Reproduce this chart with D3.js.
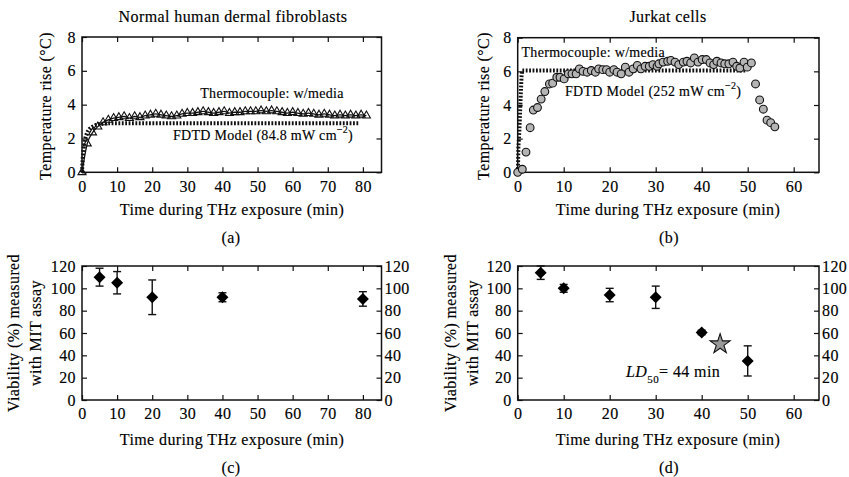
<!DOCTYPE html>
<html>
<head>
<meta charset="utf-8">
<script src="https://cdn.jsdelivr.net/npm/d3@7"></script>
<style>
  body { margin: 0; background: #fff; }
  svg text { font-family: "Liberation Serif", "Times New Roman", serif; fill: #000; font-size: 16px; letter-spacing: 0.4px; stroke: #000; stroke-width: 0.15px; }
  svg text.note { font-size: 14px; letter-spacing: 0.3px; }
</style>
</head>
<body>
<svg id="fig" width="849" height="477"></svg>
<script>
// ---- Temperature rise, normal human dermal fibroblasts ----
const fibroTime = [0, 1.5, 3, 4.5, 6, 7.5, 9, 10.5, 12, 13.5, 15, 16.5, 18, 19.5, 21, 22.5, 24, 25.5, 27, 28.5,
  30, 31.5, 33, 34.5, 36, 37.5, 39, 40.5, 42, 43.5, 45, 46.5, 48, 49.5, 51, 52.5, 54, 55.5, 57, 58.5,
  60, 61.5, 63, 64.5, 66, 67.5, 69, 70.5, 72, 73.5, 75, 76.5, 78, 79.5, 81];
const fibroTemp = [0, 1.7, 2.35, 2.7, 2.95, 3.1, 3.2, 3.25, 3.3, 3.2, 3.3, 3.25, 3.35, 3.4, 3.45, 3.4, 3.35, 3.3, 3.35, 3.45,
  3.5, 3.5, 3.55, 3.6, 3.55, 3.5, 3.55, 3.6, 3.5, 3.55, 3.55, 3.6, 3.6, 3.6, 3.65, 3.6, 3.65, 3.6, 3.55, 3.5,
  3.55, 3.5, 3.45, 3.5, 3.45, 3.4, 3.45, 3.4, 3.35, 3.4, 3.35, 3.4, 3.35, 3.4, 3.35];
const fibroModelTime = [0, 0.2, 0.45, 0.75, 1.1, 1.6, 2.2, 3, 4, 5, 6.5, 8, 79];
const fibroModelTemp = [0, 0.8, 1.4, 1.85, 2.15, 2.4, 2.58, 2.7, 2.8, 2.85, 2.88, 2.9, 2.9];

// ---- Temperature rise, Jurkat cells ----
const jurkatTime = [0, 1.0, 1.8, 2.7, 3.4, 4.3, 5.1, 5.9, 6.9, 7.6, 8.5, 9.2, 10.1, 11.0, 11.8, 12.7, 13.4, 14.2, 15.1, 16.0,
  16.9, 17.6, 18.5, 19.3, 20.0, 20.9, 21.6, 22.5, 23.4, 24.2, 25.1, 26.0, 26.8, 27.7, 28.6, 29.4, 30.3, 30.7, 31.6, 32.6,
  33.3, 34.2, 35.0, 36.0, 36.8, 37.6, 38.4, 39.2, 40.1, 41.0, 41.8, 42.6, 43.3, 44.2, 45.0, 45.9, 46.8, 47.6, 48.3, 49.2,
  49.9, 50.8, 51.7, 52.6, 53.4, 54.2, 55.0, 55.9];
const jurkatTemp = [0, 0.18, 1.2, 2.65, 3.7, 3.85, 4.35, 4.8, 5.25, 5.3, 5.65, 5.65, 5.55, 5.85, 5.85, 5.85, 6.15, 6.0, 5.95, 6.05,
  5.95, 6.15, 6.1, 6.1, 5.95, 6.1, 5.95, 5.85, 6.25, 5.95, 6.15, 6.35, 6.15, 6.3, 6.3, 6.4, 6.3, 6.45, 6.55, 6.6,
  6.65, 6.55, 6.4, 6.55, 6.6, 6.5, 6.8, 6.55, 6.7, 6.7, 6.5, 6.4, 6.6, 6.5, 6.45, 6.45, 6.55, 6.3, 6.2, 6.55,
  6.25, 6.5, 5.25, 4.3, 3.75, 3.1, 2.95, 2.7];
const jurkatModelTime = [0.05, 0.15, 0.35, 0.65, 0.85, 1.0, 49.7];
const jurkatModelTemp = [0, 1.5, 2.4, 4.5, 5.8, 6.05, 6.05];

// ---- Viability measured with MTT assay ----
const fibroViabTime = [5, 10, 20, 40, 80];
const fibroViab = [110, 105, 92, 92, 90.5];
const fibroViabErr = [8, 10, 15.5, 4, 6.5];
const jurkatViabTime = [5, 10, 20, 30, 40, 50];
const jurkatViab = [114, 100, 94, 92, 60.5, 35];
const jurkatViabErr = [6, 3.5, 6, 10, 2, 13.5];
const ld50Time = [44];
const ld50Viab = [50];

// ---- Ticks ----
const tempTicks = [0, 2, 4, 6, 8];
const viabTicks = [0, 20, 40, 60, 80, 100, 120];
const fibroTimeTicks = [0, 10, 20, 30, 40, 50, 60, 70, 80];
const jurkatTimeTicks = [0, 10, 20, 30, 40, 50, 60];

const svg = d3.select("#fig");
svg.append("rect").attr("width", 849).attr("height", 477).attr("fill", "#fff");

const ink = "#111";

// scales
const xFibro = d3.scaleLinear().domain([0, 85.3]).range([82, 381.5]);
const xJurkat = d3.scaleLinear().domain([0, 65.5]).range([517.7, 819]);
const yTempA = d3.scaleLinear().domain([0, 8]).range([172.3, 37]);
const yTempB = d3.scaleLinear().domain([0, 8]).range([172.3, 37.7]);
const yViab = d3.scaleLinear().domain([0, 120]).range([400, 266]);

function panel(x, y, xTicks, yTicks, rightLabels) {
  const g = svg.append("g").attr("color", ink);
  const [xl, xr] = x.range();
  const [yb, yt] = y.range();
  const fmt = d3.format("d");
  const style = sel => { sel.attr("font-family", null).attr("font-size", null); sel.selectAll(".tick line").attr("stroke-width", 1.2); sel.select(".domain").remove(); };

  g.append("g").attr("transform", `translate(0,${yb})`)
    .call(d3.axisBottom(x).tickValues(xTicks).tickSizeInner(-5).tickSizeOuter(0).tickPadding(8).tickFormat(fmt))
    .call(style);
  g.append("g").attr("transform", `translate(0,${yt})`)
    .call(d3.axisTop(x).tickValues(xTicks).tickSizeInner(-5).tickSizeOuter(0).tickFormat(""))
    .call(style);
  g.append("g").attr("transform", `translate(${xl},0)`)
    .call(d3.axisLeft(y).tickValues(yTicks).tickSizeInner(-5).tickSizeOuter(0).tickPadding(6).tickFormat(fmt))
    .call(style);
  g.append("g").attr("transform", `translate(${xr},0)`)
    .call(d3.axisRight(y).tickValues(yTicks).tickSizeInner(-5).tickSizeOuter(0).tickPadding(3).tickFormat(rightLabels ? fmt : ""))
    .call(style);

  g.append("rect").attr("x", xl).attr("y", yt).attr("width", xr - xl).attr("height", yb - yt)
    .attr("fill", "none").attr("stroke", ink).attr("stroke-width", 1.5);
  return g;
}

function text(x, y, str, anchor, cls) {
  const t = svg.append("text").attr("x", x).attr("y", y).attr("text-anchor", anchor || "middle").text(str);
  if (cls) t.attr("class", cls);
  return t;
}

function modelNote(x, y, power) {
  const t = svg.append("text").attr("class", "note").attr("x", x).attr("y", y);
  t.append("tspan").text(`FDTD Model (${power} mW cm`);
  t.append("tspan").attr("dy", -7).attr("font-size", 10).text("\u22122");
  t.append("tspan").attr("dy", 7).text(")");
}

function yTitle(x, y, lines, gap) {
  const t = svg.append("text").attr("transform", `translate(${x},${y}) rotate(-90)`).attr("text-anchor", "middle");
  lines.forEach((l, i) => t.append("tspan").attr("x", 0).attr("dy", i ? gap : 0).text(l));
}

const dashed = { stroke: ink, "stroke-width": 4, "stroke-dasharray": "1.8,1.6", fill: "none" };
function applyAttrs(sel, a) { Object.entries(a).forEach(([k, v]) => sel.attr(k, v)); return sel; }

// ===== (a) fibroblast temperature =====
panel(xFibro, yTempA, fibroTimeTicks, tempTicks, false);
const lineA = d3.line().x(d => xFibro(d[0])).y(d => yTempA(d[1]));
applyAttrs(svg.append("path").attr("d", lineA(d3.zip(fibroModelTime, fibroModelTemp))), dashed);
svg.append("path").attr("d", lineA.curve(d3.curveMonotoneX)(d3.zip(fibroTime, fibroTemp)))
  .attr("fill", "none").attr("stroke", ink).attr("stroke-width", 1.3);
svg.append("g").selectAll("path").data(d3.zip(fibroTime, fibroTemp)).join("path")
  .attr("transform", d => `translate(${xFibro(d[0])},${yTempA(d[1])})`)
  .attr("d", d3.symbol(d3.symbolTriangle, 28))
  .attr("fill", "none").attr("stroke", ink).attr("stroke-width", 1.1);
text(272, 98, "Thermocouple: w/media", "middle", "note");
modelNote(173, 140, "84.8");
text(233, 22, "Normal human dermal fibroblasts");
text(232, 215, "Time during THz exposure (min)");
yTitle(51, 106, ["Temperature rise (\u00B0C)"], 0);
text(231, 243, "(a)");

// ===== (b) Jurkat temperature =====
panel(xJurkat, yTempB, jurkatTimeTicks, tempTicks, false);
const lineB = d3.line().x(d => xJurkat(d[0])).y(d => yTempB(d[1]));
applyAttrs(svg.append("path").attr("d", lineB(d3.zip(jurkatModelTime, jurkatModelTemp))), dashed);
svg.append("g").selectAll("circle").data(d3.zip(jurkatTime, jurkatTemp)).join("circle")
  .attr("cx", d => xJurkat(d[0])).attr("cy", d => yTempB(d[1])).attr("r", 3.9)
  .attr("fill", "#b4b4b4").attr("stroke", ink).attr("stroke-width", 1.1);
text(521.5, 57, "Thermocouple: w/media", "start", "note");
modelNote(565, 96, "252");
text(668, 22, "Jurkat cells");
text(668, 215, "Time during THz exposure (min)");
yTitle(489, 106, ["Temperature rise (\u00B0C)"], 0);
text(669, 243, "(b)");

// error bars + diamonds
function viabMarks(x, times, vals, errs) {
  const g = svg.append("g");
  const rows = d3.zip(times, vals, errs);
  g.selectAll("line.v").data(rows).join("line").attr("class", "v")
    .attr("x1", d => x(d[0])).attr("x2", d => x(d[0]))
    .attr("y1", d => yViab(d[1] - d[2])).attr("y2", d => yViab(d[1] + d[2]))
    .attr("stroke", ink).attr("stroke-width", 1.4);
  [-1, 1].forEach(s => {
    g.selectAll(null).data(rows).join("line")
      .attr("x1", d => x(d[0]) - 4).attr("x2", d => x(d[0]) + 4)
      .attr("y1", d => yViab(d[1] + s * d[2])).attr("y2", d => yViab(d[1] + s * d[2]))
      .attr("stroke", ink).attr("stroke-width", 1.4);
  });
  g.selectAll("path").data(rows).join("path")
    .attr("transform", d => `translate(${x(d[0])},${yViab(d[1])}) rotate(45)`)
    .attr("d", d3.symbol(d3.symbolSquare, 72))
    .attr("fill", "#000");
}

// ===== (c) fibroblast viability =====
panel(xFibro, yViab, fibroTimeTicks, viabTicks, true);
viabMarks(xFibro, fibroViabTime, fibroViab, fibroViabErr);
text(232, 445, "Time during THz exposure (min)");
yTitle(18.5, 333, ["Viability (%) measured", "with MIT assay"], 22.5);
text(231, 473, "(c)");

// ===== (d) Jurkat viability =====
panel(xJurkat, yViab, jurkatTimeTicks, viabTicks, true);
viabMarks(xJurkat, jurkatViabTime, jurkatViab, jurkatViabErr);
svg.append("g").selectAll("path").data(d3.zip(ld50Time, ld50Viab)).join("path")
  .attr("transform", d => `translate(${xJurkat(d[0])},${yViab(d[1])})`)
  .attr("d", d3.symbol(d3.symbolStar, 124))
  .attr("fill", "#999").attr("stroke", ink).attr("stroke-width", 1.1);
const ld = svg.append("text").attr("x", 626).attr("y", 377);
ld.append("tspan").attr("font-style", "italic").text("LD");
ld.append("tspan").attr("dy", 6).attr("font-size", 11).text(ld50Viab[0]);
ld.append("tspan").attr("dy", -6).text("= " + ld50Time[0] + " min");
text(668, 445, "Time during THz exposure (min)");
yTitle(455.5, 333, ["Viability (%) measured", "with MIT assay"], 22.5);
text(669, 473, "(d)");
</script>
</body>
</html>
